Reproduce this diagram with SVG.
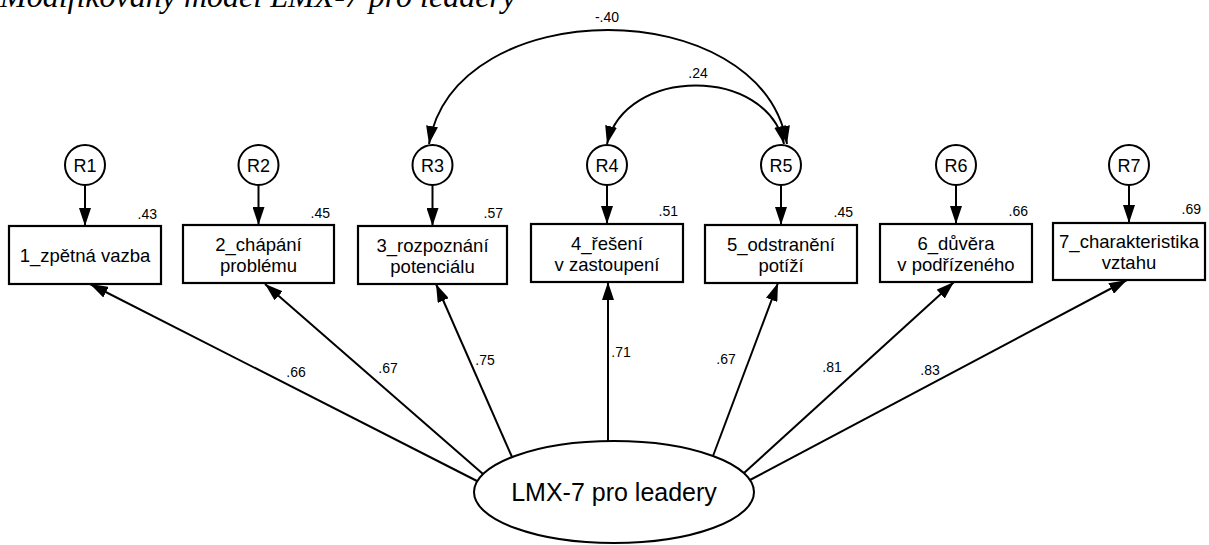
<svg xmlns="http://www.w3.org/2000/svg" width="1209" height="545" viewBox="0 0 1209 545">
<defs>
<marker id="ah" viewBox="0 0 18 12" refX="18" refY="6" markerWidth="18" markerHeight="12" markerUnits="userSpaceOnUse" orient="auto-start-reverse">
<path d="M0,0 L18,6 L0,12 z" fill="#000"/>
</marker>
<style>
.box{fill:#fff;stroke:#000;stroke-width:2.2}
.err{fill:#fff;stroke:#000;stroke-width:2}
.lat{fill:#fff;stroke:#000;stroke-width:2}
.ln{fill:none;stroke:#000;stroke-width:2;marker-end:url(#ah)}
.cv{fill:none;stroke:#000;stroke-width:2;marker-start:url(#ah);marker-end:url(#ah)}
.t{font-family:"Liberation Sans",Arial,sans-serif;fill:#000}
.bt{font-size:18.5px;text-anchor:middle}
.rt{font-size:18px;text-anchor:middle}
.num{font-size:14px}
.cap{font-family:"Liberation Serif","Times New Roman",serif;font-style:italic;font-size:32px;fill:#000}
</style>
</defs>
<rect x="0" y="0" width="1209" height="545" fill="#fff"/>
<text class="cap" x="0" y="7">Modifikovaný model LMX-7 pro leadery</text>

<g id="connectors">
<path class="cv" d="M429,144 C455,-8 761,-8 787,144"/>
<path class="cv" d="M607,144 C625,66 767,66 784,144"/>
<line class="ln" x1="85" y1="185" x2="85" y2="226"/>
<line class="ln" x1="258.5" y1="185" x2="258.5" y2="225"/>
<line class="ln" x1="432.5" y1="185" x2="432.5" y2="226"/>
<line class="ln" x1="607" y1="185" x2="607" y2="224"/>
<line class="ln" x1="781" y1="185" x2="781" y2="225"/>
<line class="ln" x1="956" y1="185" x2="956" y2="224"/>
<line class="ln" x1="1129" y1="185" x2="1129" y2="223"/>
<line class="ln" x1="477" y1="481" x2="90" y2="284"/>
<line class="ln" x1="483" y1="474" x2="265" y2="284"/>
<line class="ln" x1="512" y1="457" x2="436" y2="284"/>
<line class="ln" x1="608" y1="441" x2="608" y2="282"/>
<line class="ln" x1="713" y1="456" x2="778" y2="283"/>
<line class="ln" x1="744" y1="473" x2="954" y2="282"/>
<line class="ln" x1="750" y1="480" x2="1127" y2="280"/>
<text class="t num" x="607" y="22" text-anchor="middle">-.40</text>
<text class="t num" x="698" y="78" text-anchor="middle">.24</text>
<text class="t num" x="296" y="377" text-anchor="middle">.66</text>
<text class="t num" x="388" y="373" text-anchor="middle">.67</text>
<text class="t num" x="485" y="365" text-anchor="middle">.75</text>
<text class="t num" x="621" y="357" text-anchor="middle">.71</text>
<text class="t num" x="726" y="364" text-anchor="middle">.67</text>
<text class="t num" x="832" y="372" text-anchor="middle">.81</text>
<text class="t num" x="930" y="375" text-anchor="middle">.83</text>
</g>

<g id="R1"><circle class="err" cx="85" cy="165" r="20"/><text class="t rt" x="85" y="171.5">R1</text></g>
<g id="R2"><circle class="err" cx="258.5" cy="165" r="20"/><text class="t rt" x="258.5" y="171.5">R2</text></g>
<g id="R3"><circle class="err" cx="432.5" cy="165" r="20"/><text class="t rt" x="432.5" y="171.5">R3</text></g>
<g id="R4"><circle class="err" cx="607" cy="165" r="20"/><text class="t rt" x="607" y="171.5">R4</text></g>
<g id="R5"><circle class="err" cx="781" cy="165" r="20"/><text class="t rt" x="781" y="171.5">R5</text></g>
<g id="R6"><circle class="err" cx="956" cy="165" r="20"/><text class="t rt" x="956" y="171.5">R6</text></g>
<g id="R7"><circle class="err" cx="1129" cy="165" r="20"/><text class="t rt" x="1129" y="171.5">R7</text></g>

<g id="box1"><rect class="box" x="9" y="226" width="152" height="58"/>
<text class="t bt" x="85" y="262">1_zpětná vazba</text>
<text class="t num" x="157" y="219" text-anchor="end">.43</text></g>
<g id="box2"><rect class="box" x="183" y="225" width="151" height="58"/>
<text class="t bt" x="258.5" y="251">2_chápání</text><text class="t bt" x="258.5" y="272">problému</text>
<text class="t num" x="330" y="218" text-anchor="end">.45</text></g>
<g id="box3"><rect class="box" x="358" y="226" width="149" height="58"/>
<text class="t bt" x="432.5" y="252">3_rozpoznání</text><text class="t bt" x="432.5" y="273">potenciálu</text>
<text class="t num" x="503" y="218" text-anchor="end">.57</text></g>
<g id="box4"><rect class="box" x="531" y="224" width="152" height="58"/>
<text class="t bt" x="607" y="250">4_řešení</text><text class="t bt" x="607" y="271">v zastoupení</text>
<text class="t num" x="678" y="216" text-anchor="end">.51</text></g>
<g id="box5"><rect class="box" x="705" y="225" width="152" height="58"/>
<text class="t bt" x="781" y="251">5_odstranění</text><text class="t bt" x="781" y="272">potíží</text>
<text class="t num" x="853" y="217" text-anchor="end">.45</text></g>
<g id="box6"><rect class="box" x="880" y="224" width="152" height="58"/>
<text class="t bt" x="956" y="250">6_důvěra</text><text class="t bt" x="956" y="271">v podřízeného</text>
<text class="t num" x="1028" y="216" text-anchor="end">.66</text></g>
<g id="box7"><rect class="box" x="1053" y="223" width="152" height="57"/>
<text class="t bt" x="1129" y="248">7_charakteristika</text><text class="t bt" x="1129" y="269">vztahu</text>
<text class="t num" x="1201" y="214" text-anchor="end">.69</text></g>

<g id="LMX"><ellipse class="lat" cx="614" cy="492" rx="140" ry="51"/>
<text class="t" x="614" y="501" font-size="25" text-anchor="middle">LMX-7 pro leadery</text></g>
</svg>
